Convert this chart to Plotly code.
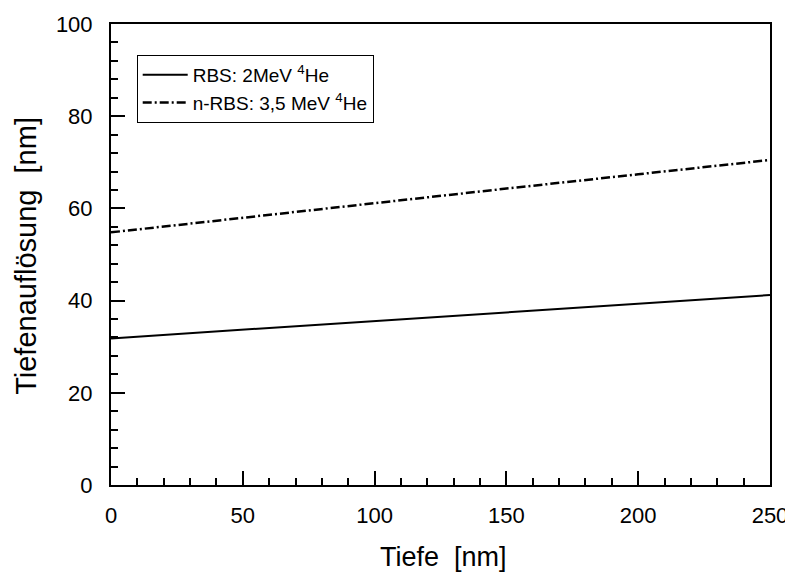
import plotly.graph_objects as go

tiefe = [0, 50, 100, 150, 200, 250]
rbs_2mev = [31.8, 33.7, 35.6, 37.5, 39.4, 41.2]
nrbs_35mev = [54.8, 58.0, 61.2, 64.3, 67.4, 70.5]

fig = go.Figure()
fig.add_trace(go.Scatter(x=tiefe, y=rbs_2mev, mode="lines",
                         name="RBS: 2MeV <sup>4</sup>He",
                         line=dict(color="black", width=2)))
fig.add_trace(go.Scatter(x=tiefe, y=nrbs_35mev, mode="lines",
                         name="n-RBS: 3,5 MeV <sup>4</sup>He",
                         line=dict(color="black", width=2.5, dash="9px,3px,2px,3px")))

achse = dict(showgrid=False, zeroline=False, showline=True, linecolor="black",
             linewidth=2, mirror=True, ticks="inside", tickcolor="black",
             tickwidth=1.5, ticklen=14, tickfont=dict(size=22, color="black"),
             automargin=False)

fig.update_layout(
    width=793, height=574,
    margin=dict(l=103, r=31, t=16, b=97),
    plot_bgcolor="white", paper_bgcolor="white",
    font=dict(family="Liberation Sans, Arial, sans-serif", color="black"),
    xaxis=dict(achse, range=[0, 250], dtick=50, ticklabelstandoff=10,
               minor=dict(dtick=10, ticks="inside", ticklen=7, tickcolor="black", tickwidth=1.5)),
    yaxis=dict(achse, range=[0, 100], dtick=20, ticklabelstandoff=12,
               minor=dict(dtick=4, ticks="inside", ticklen=7, tickcolor="black", tickwidth=1.5)),
    legend=dict(x=0.039, y=0.933, xanchor="left", yanchor="top",
                bgcolor="white", bordercolor="black", borderwidth=1,
                font=dict(size=19), tracegroupgap=0, itemwidth=45),
    showlegend=True,
)

# Achsentitel als Annotationen
fig.add_annotation(text="Tiefe  [nm]", xref="paper", yref="paper", x=0.505, y=-0.157,
                   showarrow=False, xanchor="center", yanchor="middle", font=dict(size=27))
fig.add_annotation(text="Tiefenauflösung  [nm]", xref="paper", yref="paper", x=-0.129, y=0.497,
                   showarrow=False, xanchor="center", yanchor="middle", textangle=-90,
                   font=dict(size=29))

fig.write_html("out.html")
